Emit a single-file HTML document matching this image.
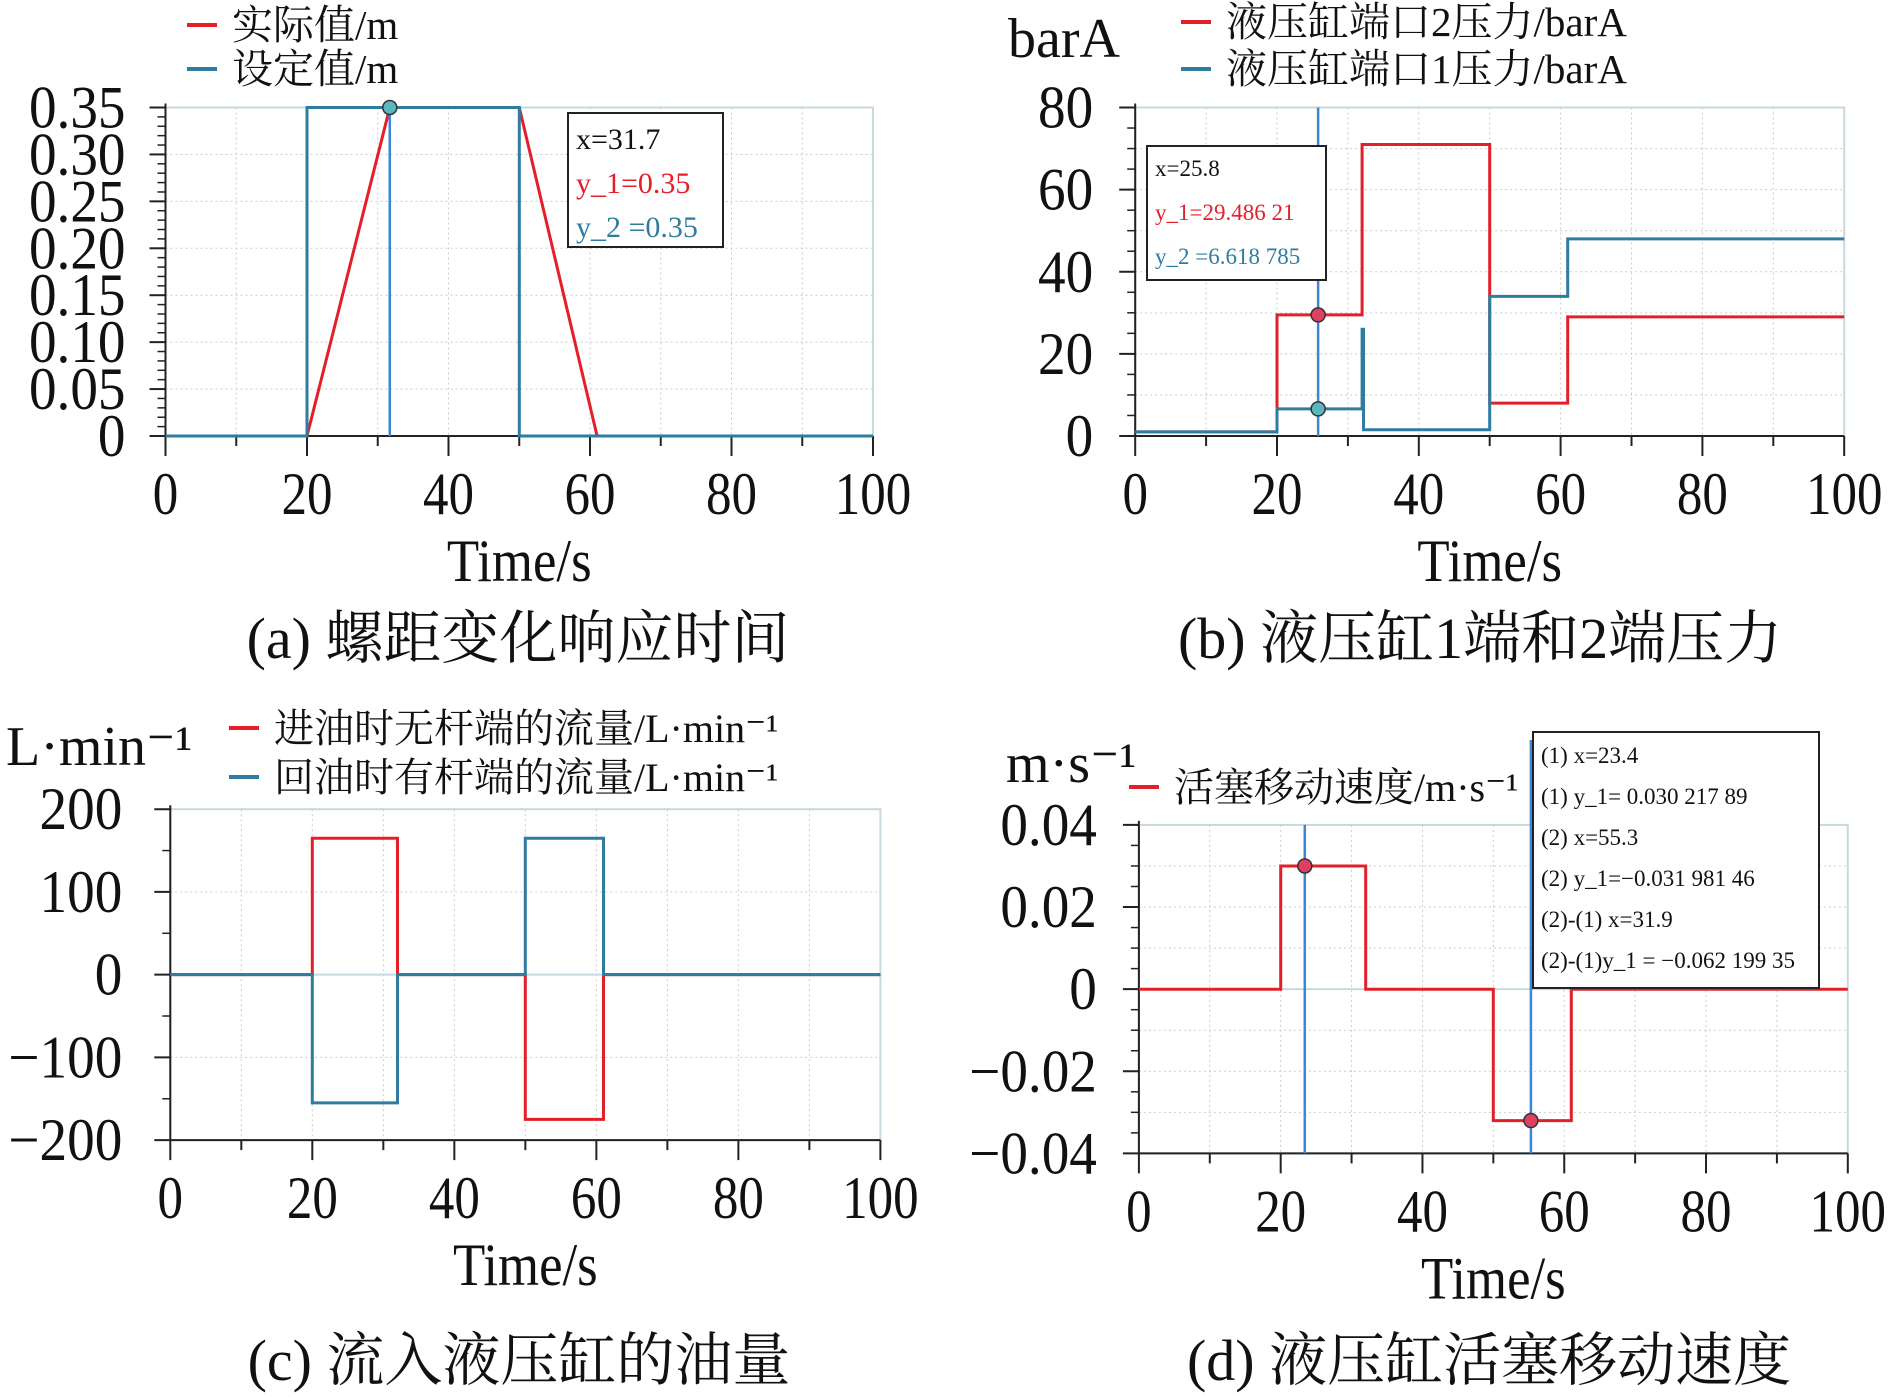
<!DOCTYPE html>
<html><head><meta charset="utf-8"><style>
body{margin:0;background:#fff}
svg{display:block}
text{font-family:"Liberation Serif","Noto Serif CJK SC",serif}
</style></head><body>
<svg id="s" width="1890" height="1400" xmlns="http://www.w3.org/2000/svg"></svg>
<script>
// ---- data ----
const aRedX=[0,20,31.7,50,61,100], aRedY=[0,0,0.35,0.35,0,0];
const aBlueX=[0,20,20,50,50,100], aBlueY=[0,0,0.35,0.35,0,0];
const aTicksY=[0,0.05,0.10,0.15,0.20,0.25,0.30,0.35], aTickLblY=["0","0.05","0.10","0.15","0.20","0.25","0.30","0.35"];
const bRedX=[0,20,20,32,32,50,50,61,61,100], bRedY=[1,1,29.5,29.5,71,71,8,8,29,29];
const bBlueX=[0,20,20,32,32,32.2,32.2,50,50,61,61,100], bBlueY=[1,1,6.6,6.6,26,26,1.5,1.5,34,34,48,48];
const bTicksY=[0,20,40,60,80];
const cRedX=[0,20,20,32,32,50,50,61,61,100], cRedY=[0,0,165,165,0,0,-175,-175,0,0];
const cBlueX=[0,20,20,32,32,50,50,61,61,100], cBlueY=[0,0,-155,-155,0,0,165,165,0,0];
const cTicksY=[-200,-100,0,100,200], cTickLblY=["\u2212200","\u2212100","0","100","200"];
const dRedX=[0,20,20,32,32,50,50,61,61,100], dRedY=[0,0,0.030,0.030,0,0,-0.032,-0.032,0,0];
const dTicksY=[-0.04,-0.02,0,0.02,0.04], dTickLblY=["\u22120.04","\u22120.02","0","0.02","0.04"];
const xTicks=[0,20,40,60,80,100];
const RED="#e3202a", BLUE="#2e7ca0", CUR="#3a86d8";
const S=document.getElementById('s');
function el(t,a,p){const e=document.createElementNS("http://www.w3.org/2000/svg",t);for(const k in a)e.setAttribute(k,a[k]);(p||S).appendChild(e);return e;}
function txt(x,y,s,size,anchor,fill,p,sx){const t=el('text',{x:0,y:0,'font-size':size,'text-anchor':anchor||'start',fill:fill||'#111',transform:'translate('+x+','+y+') scale('+(sx||1)+',1)'},p);t.textContent=s;return t;}
function chart(name,x0,x1,y0,y1,ymin,ymax,yt,ylbl,minorStep,gridStep,lblGap){
  const g=el('g',{});
  
  
  const X=v=>x0+(v/100)*(x1-x0), Y=v=>y0-(v-ymin)/(ymax-ymin)*(y0-y1);
  el('rect',{x:x0,y:y1,width:x1-x0,height:y0-y1,fill:'#fff',stroke:'#c9d8de','stroke-width':2},g);
  for(let v=10;v<100;v+=10)el('line',{x1:X(v),x2:X(v),y1:y1,y2:y0,stroke:'#ccc','stroke-dasharray':'2,3'},g);
  for(let v=ymin+gridStep;v<ymax-1e-9;v+=gridStep)el('line',{x1:x0,x2:x1,y1:Y(v),y2:Y(v),stroke:'#ccc','stroke-dasharray':'2,3'},g);
  if(ymin<0)el('line',{x1:x0,x2:x1,y1:Y(0),y2:Y(0),stroke:'#c9d8de','stroke-width':2},g);
  el('line',{x1:x0,x2:x0,y1:y1-4,y2:y0,stroke:'#222','stroke-width':2},g);
  el('line',{x1:x0,x2:x1,y1:y0,y2:y0,stroke:'#222','stroke-width':2},g);
  for(let v=ymin;v<=ymax+1e-9;v+=minorStep)el('line',{x1:x0-8,x2:x0,y1:Y(v),y2:Y(v),stroke:'#222','stroke-width':1.5},g);
  yt.forEach((v,i)=>{el('line',{x1:x0-16,x2:x0,y1:Y(v),y2:Y(v),stroke:'#222','stroke-width':2},g);
    const t=txt(x0-lblGap,Y(v)+20,ylbl[i],60,'end','#111',g,0.92);});
  for(let v=0;v<=100;v+=10)el('line',{x1:X(v),x2:X(v),y1:y0,y2:y0+(v%20?10:20),stroke:'#222','stroke-width':2},g);
  xTicks.forEach(v=>{const t=txt(X(v),y0+78,String(v),60,'middle','#111',g,0.85);});
  const t=txt((x0+x1)/2,y0+145,'Time/s',60,'middle','#111',g,0.88);
  
  return {X,Y,g};
}
function series(c,xs,ys,col,name){
  const p=xs.map((v,i)=>c.X(v).toFixed(1)+','+c.Y(ys[i]).toFixed(1)).join(' ');
  const e=el('polyline',{points:p,fill:'none',stroke:col,'stroke-width':3},c.g);
  
}
function cursor(c,x,y1,y0){const e=el('line',{x1:c.X(x),x2:c.X(x),y1:y1,y2:y0,stroke:CUR,'stroke-width':2.5},c.g);}
function dot(c,x,y,col){const e=el('circle',{cx:c.X(x),cy:c.Y(y),r:7,fill:col,stroke:'#333','stroke-width':1.5},c.g);}
function box(x,y,w,h,lines,size,name){const g=el('g',{});
  el('rect',{x:x,y:y,width:w,height:h,fill:'#fff',stroke:'#222','stroke-width':2},g);
  lines.forEach((l,i)=>txt(x+8,y+l[2],l[0],size,'start',l[1],g));}
function legend(x,y,s,col,size){const g=el('g',{});
  el('line',{x1:x,x2:x+30,y1:y,y2:y,stroke:col,'stroke-width':4},g);txt(x+45,y+14,s,size,'start','#111',g);}

// (a)
const A=chart('chart-a',165.5,873,436,107.5,0,0.35,aTicksY,aTickLblY,0.01,0.05,40);
series(A,aRedX,aRedY,RED,'series-actual');
series(A,aBlueX,aBlueY,BLUE,'series-setpoint');
cursor(A,31.7,107.5,436);dot(A,31.7,0.35,'#5bb8c0');
box(568,113,155,134,[['x=31.7','#111',36],['y_1=0.35',RED,80],['y_2 =0.35',BLUE,124]],30,'readout-a');
legend(187,25,'实际值/m',RED,41);legend(187,69,'设定值/m',BLUE,41);
txt(518,658,'(a) 螺距变化响应时间',58,'middle');

// (b)
const B=chart('chart-b',1135.2,1844.2,436,107.5,0,80,bTicksY,bTicksY.map(String),5,10,42);
series(B,bRedX,bRedY,RED,'series-port2');
series(B,bBlueX,bBlueY,BLUE,'series-port1');
cursor(B,25.8,107.5,436);dot(B,25.8,29.5,'#e04060');dot(B,25.8,6.6,'#5bb8c0');
box(1147,146,179,134,[['x=25.8','#111',30],['y_1=29.486 21',RED,74],['y_2 =6.618 785',BLUE,118]],23,'readout-b');
legend(1181,22,'液压缸端口2压力/barA',RED,41);legend(1181,69,'液压缸端口1压力/barA',BLUE,41);
txt(1008,57,'barA',56,'start');
txt(1480,658,'(b) 液压缸1端和2端压力',58,'middle');

// (c)
const C=chart('chart-c',170.3,880.4,1140.1,809.2,-200,200,cTicksY,cTickLblY,50,100,48);
series(C,cRedX,cRedY,RED,'series-inlet-flow');
series(C,cBlueX,cBlueY,BLUE,'series-return-flow');
legend(229,728,'进油时无杆端的流量/L·min⁻¹',RED,40);legend(229,777,'回油时有杆端的流量/L·min⁻¹',BLUE,40);
txt(6,765,'L·min⁻¹',56,'start');
txt(519,1380,'(c) 流入液压缸的油量',58,'middle');

// (d)
const D=chart('chart-d',1138.9,1847.8,1153.4,824.9,-0.04,0.04,dTicksY,dTickLblY,0.005,0.01,42);
series(D,dRedX,dRedY,RED,'series-velocity');
cursor(D,23.4,824.9,1153.4);cursor(D,55.3,740,1153.4);
dot(D,23.4,0.030,'#e04060');dot(D,55.3,-0.032,'#e04060');
box(1533,732,286,256,[['(1) x=23.4','#111',31],['(1) y_1= 0.030 217 89','#111',72],['(2) x=55.3','#111',113],['(2) y_1=−0.031 981 46','#111',154],['(2)-(1) x=31.9','#111',195],['(2)-(1)y_1 = −0.062 199 35','#111',236]],23,'readout-d');
legend(1129,787,'活塞移动速度/m·s⁻¹',RED,40);
txt(1006,782,'m·s⁻¹',56,'start');
txt(1489,1380,'(d) 液压缸活塞移动速度',58,'middle');
</script>
</body></html>
